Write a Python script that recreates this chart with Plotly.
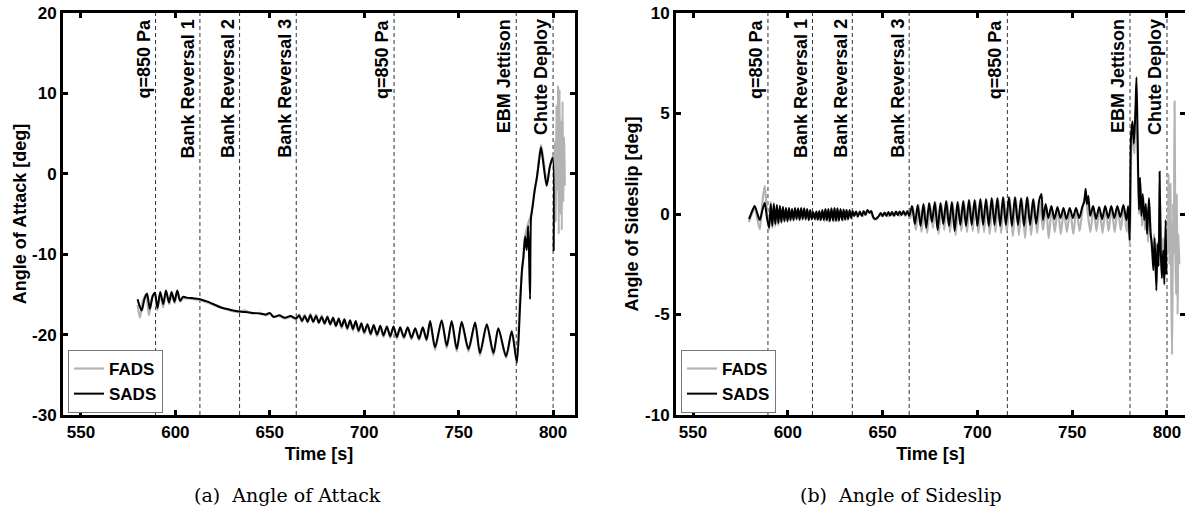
import plotly.graph_objects as go

# ---------------- data ----------------
event_times = [589.5, 613.0, 634.0, 664.0, 715.8, 780.5, 800.0]
event_labels = ["q=850 Pa", "Bank Reversal 1", "Bank Reversal 2", "Bank Reversal 3",
                "q=850 Pa", "EBM Jettison", "Chute Deploy"]

x_ticks = [550, 600, 650, 700, 750, 800]
x_tick_text = ["550", "600", "650", "700", "750", "800"]
aoa_ticks = [-30, -20, -10, 0, 10, 20]
aoa_tick_text = ["-30", "-20", "-10", "0", "10", "20"]
beta_ticks = [-10, -5, 0, 5, 10]
beta_tick_text = ["-10", "-5", "0", "5", "10"]

# Angle of attack, SADS (black)
aoa_sads_t = [580.0, 581.0, 582.2, 583.6, 585.0, 586.5, 588.0, 589.2, 590.5, 592.0, 593.6, 595.0,
              596.6, 598.0, 599.5, 601.0, 602.5, 604.0, 606.0, 610.0, 613.0, 617.0, 621.0, 625.0,
              629.0, 633.0, 637.0, 641.0, 645.0, 648.0, 650.0, 652.0, 655.0, 658.0, 661.0, 664.0,
              665.5, 667.0, 668.5, 670.0, 671.5, 673.0, 674.5, 676.0, 677.5, 679.0, 680.5, 682.0,
              683.5, 685.0, 686.5, 688.0, 689.5, 691.0, 692.5, 694.0, 695.5, 697.0, 698.5, 700.0,
              701.7, 703.4, 705.0, 706.8, 708.5, 710.2, 712.0, 713.8, 715.5, 717.3, 719.0, 721.0,
              723.0, 725.0, 727.0, 729.0, 731.0, 733.0, 734.9, 737.5, 741.0, 743.7, 746.3, 749.0,
              751.6, 755.2, 758.7, 761.3, 764.9, 768.4, 771.0, 775.1, 778.1, 780.8, 782.5, 783.5,
              784.3, 785.2, 786.0, 786.8, 787.8, 788.3, 789.2, 790.3, 791.4, 792.5, 793.6, 795.0,
              796.6, 798.2, 799.8, 800.3]
aoa_sads = [-15.6, -16.4, -17.0, -15.6, -14.9, -16.8, -15.2, -14.8, -16.7, -14.7, -16.2, -14.5,
            -16.0, -14.7, -15.9, -14.5, -15.8, -15.3, -15.4, -15.5, -15.6, -15.9, -16.3, -16.7,
            -16.9, -17.1, -17.2, -17.3, -17.4, -17.5, -17.3, -17.8, -17.6, -17.9, -17.7, -18.0,
            -17.6, -18.3, -17.7, -18.4, -17.6, -18.4, -17.7, -18.5, -17.8, -18.6, -17.8, -18.7,
            -17.9, -18.9, -18.0, -19.0, -18.1, -19.2, -18.2, -19.3, -18.3, -19.5, -18.6, -19.7,
            -18.7, -19.9, -18.8, -20.0, -18.9, -20.1, -19.0, -20.2, -19.0, -20.3, -19.1, -20.3,
            -19.1, -20.4, -19.2, -20.5, -19.1, -20.6, -18.3, -21.6, -18.2, -21.4, -18.3, -21.8,
            -18.4, -21.8, -18.5, -22.3, -18.7, -22.3, -19.2, -22.7, -19.6, -23.5, -16.5, -12.0,
            -10.4, -7.8, -9.5, -6.5, -15.6, -5.5, -4.0, -2.0, -0.5, 1.5, 3.3, 1.0,
            -1.5, 0.8, 2.0, -9.6]

# Angle of attack, FADS (grey)
aoa_fads_t = [580.0, 581.2, 582.8, 584.5, 586.0, 587.6, 589.0, 590.4, 592.0, 593.5, 595.2, 596.7,
              598.2, 599.6, 601.2, 602.6, 604.0, 606.0, 610.0, 613.0, 617.0, 621.0, 625.0, 629.0,
              633.0, 637.0, 641.0, 645.0, 648.0, 650.0, 652.0, 655.0, 658.0, 661.0, 664.0, 665.5,
              667.0, 668.5, 670.0, 671.5, 673.0, 674.5, 676.0, 677.5, 679.0, 680.5, 682.0, 683.5,
              685.0, 686.5, 688.0, 689.5, 691.0, 692.5, 694.0, 695.5, 697.0, 698.5, 700.0, 701.7,
              703.4, 705.0, 706.8, 708.5, 710.2, 712.0, 713.8, 715.5, 717.3, 719.0, 721.0, 723.0,
              725.0, 727.0, 729.0, 731.0, 733.0, 734.9, 737.5, 741.0, 743.7, 746.3, 749.0, 751.6,
              755.2, 758.7, 761.3, 764.9, 768.4, 771.0, 775.1, 778.1, 780.8, 782.3, 783.8, 785.0,
              786.8, 788.5, 790.0, 791.5, 793.6, 795.2, 796.8, 798.4, 800.0, 800.6, 801.0, 801.4,
              801.8, 802.2, 802.6, 803.0, 803.4, 803.8, 804.2, 804.6, 805.0, 805.4, 805.8, 806.2]
aoa_fads = [-16.3, -17.9, -15.8, -15.0, -17.6, -15.4, -14.9, -17.0, -14.9, -16.6, -14.6, -16.2,
            -14.8, -16.1, -14.6, -15.9, -15.5, -15.5, -15.6, -15.7, -16.0, -16.4, -16.7, -17.0,
            -17.2, -17.0, -17.4, -17.3, -17.6, -17.4, -17.8, -17.7, -18.0, -17.8, -18.1, -17.5,
            -18.4, -17.5, -18.5, -17.4, -18.5, -17.5, -18.6, -17.6, -18.7, -17.7, -18.8, -17.9,
            -19.0, -18.1, -19.2, -18.2, -19.4, -18.3, -19.5, -18.4, -19.7, -18.7, -19.9, -18.8,
            -20.1, -18.9, -20.2, -19.0, -20.3, -19.1, -20.4, -19.1, -20.5, -19.2, -20.5, -19.2,
            -20.6, -19.3, -20.7, -19.2, -20.8, -18.4, -21.9, -18.3, -21.7, -18.4, -22.1, -18.5,
            -22.1, -18.6, -22.6, -18.8, -22.6, -19.2, -22.9, -19.5, -23.0, -16.0, -11.5, -8.0,
            -6.2, -5.0, -2.3, -0.3, 3.6, 1.2, -1.2, 1.0, 2.2, -3.0, 4.0, -6.0,
            8.5, -2.0, 11.0, -7.5, 10.5, -5.0, 6.5, -7.0, 9.0, -3.5, 4.5, -1.5]

# Angle of sideslip, SADS (black)
beta_sads_t = [579.5, 581.0, 582.5, 584.0, 585.2, 586.6, 587.8, 589.0, 590.1, 591.0, 591.8, 592.6,
               593.4, 594.2, 595.0, 595.8, 596.6, 597.4, 598.2, 599.0, 599.8, 600.6, 601.4, 602.2,
               603.0, 603.8, 604.6, 605.4, 606.2, 607.0, 607.8, 608.6, 609.4, 610.2, 611.0, 611.8,
               612.6, 613.4, 614.2, 615.0, 615.8, 616.6, 617.4, 618.2, 619.0, 619.8, 620.6, 621.4,
               622.2, 623.0, 623.8, 624.6, 625.4, 626.2, 627.0, 627.8, 628.6, 629.4, 630.2, 631.0,
               631.8, 632.6, 633.4, 634.2, 635.0, 636.0, 637.0, 638.0, 639.0, 640.0, 641.0, 642.0,
               643.0, 644.0, 645.0, 646.0, 647.0, 648.0, 649.0, 650.0, 651.0, 652.0, 653.0, 654.0,
               655.0, 656.0, 657.0, 658.0, 659.0, 660.0, 661.0, 662.0, 663.0, 664.0, 665.5, 667.0,
               668.5, 670.0, 671.5, 673.0, 674.5, 676.0, 677.5, 679.0, 680.5, 682.0, 683.5, 685.0,
               686.5, 688.0, 689.5, 691.0, 692.5, 694.0, 695.5, 697.0, 698.5, 700.0, 701.5, 703.0,
               704.5, 706.0, 707.5, 709.0, 710.5, 712.0, 713.5, 715.0, 716.6, 718.2, 719.8, 721.4,
               723.0, 724.6, 726.2, 727.8, 729.4, 731.0, 732.6, 733.8, 734.6, 736.0,
               737.4, 739.0, 740.6, 742.2, 743.8, 745.4, 747.0, 748.7, 750.4, 752.0, 753.7, 755.3,
               756.3, 757.1, 757.8, 758.5, 759.5, 761.0, 762.6, 764.2, 765.8, 767.4, 769.0, 770.6,
               772.2, 773.8, 775.4, 777.0, 778.6, 779.5, 780.3, 781.0, 781.8, 782.5, 783.3, 783.9,
               784.5, 785.2, 785.8, 786.5, 787.2, 788.0, 788.8, 789.5, 790.5, 791.3, 792.0, 792.8,
               793.5, 794.4, 795.0, 795.6, 796.1, 796.7, 797.3, 798.0, 798.6, 799.3, 799.7]
beta_sads = [-0.26, 0.10, 0.40, 0.00, -0.30, 0.20, 0.56, -0.20, -0.68, 0.50, -0.60, 0.50,
             -0.50, 0.45, -0.45, 0.40, -0.40, 0.35, -0.35, 0.30, -0.35, 0.30, -0.30, 0.25,
             -0.30, 0.30, -0.25, 0.28, -0.28, 0.30, -0.25, 0.28, -0.25, 0.25, -0.30, 0.20,
             -0.25, 0.10, -0.25, 0.12, -0.28, 0.15, -0.30, 0.20, -0.30, 0.25, -0.32, 0.25,
             -0.35, 0.28, -0.33, 0.30, -0.35, 0.28, -0.32, 0.25, -0.30, 0.22, -0.28, 0.20,
             -0.25, 0.20, -0.20, 0.15, -0.10, 0.12, -0.12, 0.12, -0.10, 0.15, -0.05, 0.20,
             0.05, 0.15, -0.15, -0.25, -0.20, -0.10, 0.05, -0.10, 0.08, -0.10, 0.10, -0.08,
             0.10, -0.08, 0.12, -0.06, 0.12, -0.05, 0.15, -0.05, 0.15, -0.10, 0.40, -0.50,
             0.45, -0.60, 0.50, -0.70, 0.55, -0.40, 0.60, -0.80, 0.55, -0.50, 0.65, -0.60,
             0.60, -0.85, 0.60, -0.55, 0.65, -0.60, 0.70, -0.55, 0.70, -0.60, 0.75, -0.55,
             0.75, -0.60, 0.80, -0.55, 0.80, -0.60, 0.85, -0.55, 0.85, -0.60, 0.85, -0.55,
             0.80, -0.60, 0.85, -0.55, 0.75, -0.50, 0.70, 1.00, -0.30, 0.50,
             -0.20, 0.40, -0.25, 0.35, -0.20, 0.30, -0.25, 0.30, -0.20, 0.30, -0.20, 0.35,
             0.60, 1.26, 0.50, 0.90, -0.10, 0.40, -0.25, 0.35, -0.25, 0.40, -0.20, 0.40,
             -0.20, 0.40, -0.15, 0.45, -0.30, 0.40, -1.30, 3.80, 4.60, 3.50, 5.00, 6.80,
             3.90, 0.20, 1.80, -0.10, 1.00, -0.30, 0.50, -1.00, 0.80, -0.90, -1.50, -2.80,
             -1.20, -3.80, -1.50, -2.60, 2.10, -1.80, -3.20, -1.80, -3.50, -0.30, -3.00]

# Angle of sideslip, FADS (grey)
beta_fads_t = [579.5, 581.0, 582.5, 584.0, 585.2, 586.6, 587.8, 589.0, 590.1, 591.0, 591.8, 592.6,
               593.4, 594.2, 595.0, 595.8, 596.6, 597.4, 598.2, 599.0, 599.8, 600.6, 601.4, 602.2,
               603.0, 603.8, 604.6, 605.4, 606.2, 607.0, 607.8, 608.6, 609.4, 610.2, 611.0, 611.8,
               612.6, 613.4, 614.6, 615.8, 617.0, 618.2, 619.4, 620.6, 621.8, 623.0, 624.2, 625.4,
               626.6, 627.8, 629.0, 630.2, 631.4, 632.6, 633.8, 635.0, 636.5, 638.0, 639.5, 641.0,
               642.5, 644.0, 645.5, 647.0, 648.5, 650.0, 651.5, 653.0, 654.5, 656.0, 657.5, 659.0,
               660.5, 662.0, 663.5, 664.6, 666.0, 667.5, 669.0, 670.5, 672.0, 673.5, 675.0, 676.5,
               678.0, 679.5, 681.0, 682.5, 684.0, 685.5, 687.0, 688.5, 690.0, 691.5, 693.0, 694.5,
               696.0, 697.5, 699.0, 700.5, 702.0, 703.5, 705.0, 706.5, 708.0, 709.5, 711.0, 712.5,
               714.0, 715.5, 717.1, 718.7, 720.3, 721.9, 723.5, 725.1, 726.7, 728.3, 729.9, 731.5,
               733.0, 734.6,
               736.2, 737.6, 739.2, 740.8, 742.4, 744.0, 745.6, 747.2, 748.9, 750.6, 752.2, 753.9,
               755.5, 757.0, 758.0, 759.6, 761.2, 762.8, 764.4, 766.0, 767.6, 769.2, 770.8, 772.4,
               774.0, 775.6, 777.2, 778.8, 779.6, 780.4, 781.2, 782.0, 782.8, 783.6, 784.4, 785.2,
               786.0, 786.8, 787.6, 788.4, 789.2, 790.0, 790.8, 791.6, 792.4, 793.2, 794.0, 794.8,
               795.6, 796.4, 797.2, 798.0, 798.8, 799.6, 800.4, 800.8, 801.3, 801.8, 802.3, 802.7,
               803.2, 803.6, 804.0, 804.4, 804.8, 805.2, 805.6, 806.0, 806.5]
beta_fads = [-0.40, 0.00, 0.30, -0.30, -0.76, 0.60, 1.40, 0.10, -0.80, 0.60, -0.70, 0.55,
             -0.60, 0.45, -0.55, 0.40, -0.45, 0.35, -0.40, 0.30, -0.40, 0.30, -0.35, 0.25,
             -0.35, 0.28, -0.30, 0.25, -0.32, 0.28, -0.30, 0.25, -0.30, 0.22, -0.32, 0.18,
             -0.30, 0.05, -0.30, 0.10, -0.32, 0.15, -0.35, 0.22, -0.38, 0.25, -0.38, 0.25,
             -0.36, 0.22, -0.34, 0.18, -0.30, 0.15, -0.25, 0.10, -0.15, 0.10, -0.12, 0.08,
             0.15, 0.05, -0.25, -0.25, -0.05, -0.12, 0.05, -0.12, 0.08, -0.12, 0.10, -0.10,
             0.10, -0.10, 0.12, -0.20, 0.35, -0.80, 0.45, -0.90, 0.45, -0.95, 0.50, -0.70,
             0.55, -1.00, 0.50, -0.80, 0.60, -0.90, 0.55, -1.05, 0.55, -0.85, 0.60, -0.90,
             0.65, -0.85, 0.65, -0.95, 0.70, -0.90, 0.70, -1.00, 0.75, -0.90, 0.75, -0.95,
             0.80, -0.90, 0.80, -1.10, 0.80, -1.05, 0.75, -1.20, 0.80, -1.05, 0.70, -0.95,
             0.65, -0.80,
             0.45, -1.20, 0.35, -0.90, 0.30, -1.00, 0.25, -0.90, 0.25, -1.00, 0.25, -0.85,
             0.30, 0.90, 0.20, -0.90, 0.35, -0.85, 0.30, -0.95, 0.35, -0.85, 0.35, -0.90,
             0.35, -0.80, 0.40, -0.90, 0.30, -1.60, 3.20, 4.20, 3.00, 5.50, 3.50, 0.00,
             1.50, -0.60, 0.80, -0.80, 0.30, -1.40, 0.40, -1.30, -2.00, -1.00, -3.00, -1.40,
             -2.40, 0.80, -2.80, -1.20, -2.60, -1.00, -2.00, 2.00, -2.50, 1.50, -4.00, -7.00,
             0.50, -2.00, 5.60, -1.50, -4.00, 1.00, -5.00, -1.00, -2.50]

# ---------------- figure ----------------
W, H = 1185, 508
SANS = "Liberation Sans, Arial, Helvetica, sans-serif"
GREY = "#b3b3b3"

fig = go.Figure()
panels = [
    ("x", "y", "legend", aoa_fads_t, aoa_fads, aoa_sads_t, aoa_sads),
    ("x2", "y2", "legend2", beta_fads_t, beta_fads, beta_sads_t, beta_sads),
]
for xa, ya, lg, tf, vf, ts, vs in panels:
    fig.add_trace(go.Scatter(x=tf, y=vf, mode="lines", name="FADS", xaxis=xa, yaxis=ya,
                             legend=lg, legendgroup=lg + "f",
                             line=dict(color=GREY, width=2.2, shape="spline", smoothing=0.7)))
    fig.add_trace(go.Scatter(x=ts, y=vs, mode="lines", name="SADS", xaxis=xa, yaxis=ya,
                             legend=lg, legendgroup=lg + "s",
                             line=dict(color="black", width=2, shape="spline", smoothing=0.7)))

def px_x(p):
    return p / W

def px_y(p):
    return 1 - p / H

tick_font = dict(family=SANS, size=17, color="black", weight="bold")
title_font = dict(family=SANS, size=18, color="black", weight="bold")

common_axis = dict(showline=True, linewidth=3, linecolor="black", mirror="ticks",
                   ticks="inside", ticklen=5, tickwidth=2.5, tickcolor="black",
                   showgrid=False, zeroline=False, tickfont=tick_font, automargin=False,
                   tickmode="array")

legend_common = dict(xanchor="left", yanchor="bottom", bgcolor="white",
                     bordercolor="#777777", borderwidth=1,
                     font=dict(family=SANS, size=17, color="black", weight="bold"),
                     tracegroupgap=0)

fig.update_layout(
    template="none",
    width=W, height=H, autosize=False,
    margin=dict(l=0, r=0, t=0, b=0, pad=0, autoexpand=False),
    paper_bgcolor="white", plot_bgcolor="white",
    xaxis=dict(domain=[px_x(63), px_x(575)], range=[540.5, 811.6], anchor="y",
               tickvals=x_ticks, ticktext=x_tick_text,
               title=dict(text="Time [s]", font=title_font, standoff=6),
               **common_axis),
    yaxis=dict(domain=[px_y(415), px_y(13)], range=[-30, 20], anchor="x",
               tickvals=aoa_ticks, ticktext=aoa_tick_text,
               title=dict(text="Angle of Attack [deg]", font=title_font, standoff=1),
               **common_axis),
    xaxis2=dict(domain=[px_x(676), 1.0], range=[541.0, 809.5], anchor="y2",
                tickvals=x_ticks, ticktext=x_tick_text,
                title=dict(text="Time [s]", font=title_font, standoff=6),
                **common_axis),
    yaxis2=dict(domain=[px_y(415), px_y(13)], range=[-10, 10], anchor="x2",
                tickvals=beta_ticks, ticktext=beta_tick_text,
                title=dict(text="Angle of Sideslip [deg]", font=title_font, standoff=2),
                **common_axis),
    legend=dict(x=px_x(68), y=px_y(413), **legend_common),
    legend2=dict(x=px_x(681), y=px_y(413), **legend_common),
    showlegend=True,
)

shapes = []
annotations = []
for xa, ya in [("x", "y"), ("x2", "y2")]:
    for t, lab in zip(event_times, event_labels):
        shapes.append(dict(type="line", xref=xa, yref=ya + " domain", x0=t, x1=t, y0=0, y1=1,
                           line=dict(color="#333333", width=1, dash="4px,3px"), layer="below"))
        annotations.append(dict(text=lab, xref=xa, yref="paper", x=t, y=px_y(18),
                                xanchor="right", yanchor="top", textangle=-90, showarrow=False,
                                font=dict(family=SANS, size=18, color="black", weight="bold"),
                                borderpad=0, xshift=-1))

cap_font = dict(family="DejaVu Serif, serif", size=19, color="black")
annotations.append(dict(text="(a)&nbsp; Angle of Attack", xref="paper", yref="paper",
                        x=px_x(287.5), y=px_y(495), xanchor="center", yanchor="middle",
                        showarrow=False, font=cap_font))
annotations.append(dict(text="(b)&nbsp; Angle of Sideslip", xref="paper", yref="paper",
                        x=px_x(901.5), y=px_y(495), xanchor="center", yanchor="middle",
                        showarrow=False, font=cap_font))
fig.update_layout(shapes=shapes, annotations=annotations)

fig.write_html("out.html")
